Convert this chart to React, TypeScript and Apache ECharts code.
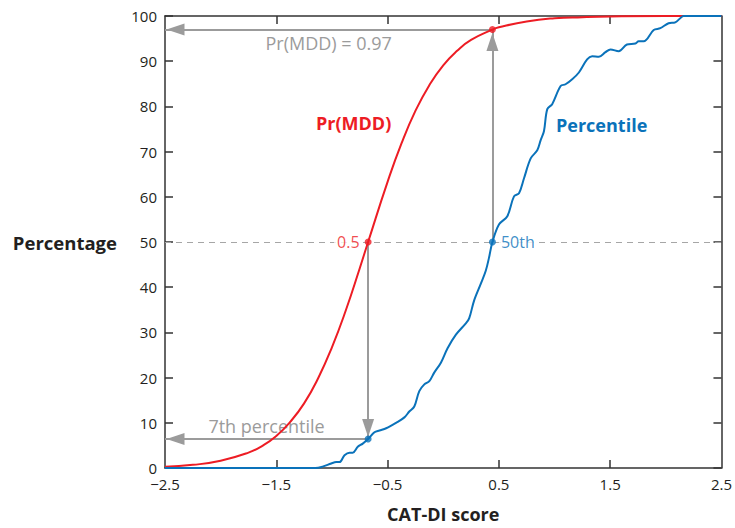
import React, { useEffect, useRef } from 'react';
import * as echarts from 'echarts';

const FONT = '"Open Sans", "Noto Sans", sans-serif';

// Axis values
const X_MIN = -2.5;
const X_MAX = 2.5;
const X_LABEL_VALUES = [-2.5, -1.5, -0.5, 0.5, 1.5, 2.5];
const X_TICK_VALUES = [-1.5, -0.5, 0.5, 1.5];
const Y_MIN = 0;
const Y_MAX = 100;
const Y_STEP = 10;

// Pr(MDD) curve (x = CAT-DI score, y = percentage)
const prMddCurve: [number, number][] = [
  [-2.5, 0.3], [-2.25, 0.7], [-2.0, 1.6], [-1.75, 3.4], [-1.625, 4.9],
  [-1.5, 7.1], [-1.375, 10.2], [-1.25, 14.3], [-1.125, 19.8], [-1.0, 26.7],
  [-0.875, 34.9], [-0.75, 44.2], [-0.675, 50], [-0.5, 63.3], [-0.375, 71.8],
  [-0.25, 79.0], [-0.125, 84.7], [0, 89.1], [0.125, 92.3], [0.25, 94.7],
  [0.442, 97], [0.5, 97.5], [0.75, 98.8], [1.0, 99.5], [1.25, 99.75],
  [1.5, 99.9], [2.0, 100], [2.5, 100],
];

const percentileCurve: [number, number][] = [
  [-2.5, 0], [-1.3, 0], [-1.15, 0], [-1.084, 0.3], [-1.006, 1.0], [-0.961, 1.3],
  [-0.932, 1.3], [-0.887, 2.8], [-0.842, 3.4], [-0.813, 3.4], [-0.768, 4.7],
  [-0.723, 5.4], [-0.675, 6.4], [-0.618, 7.9], [-0.573, 8.3], [-0.513, 8.8],
  [-0.424, 10], [-0.349, 11.2], [-0.305, 12.5], [-0.26, 13.6], [-0.215, 17],
  [-0.17, 18.5], [-0.125, 19.2], [-0.081, 21.1], [-0.021, 23.3], [0.039, 26.5],
  [0.114, 29.5], [0.203, 32], [0.233, 33.1], [0.278, 37.1], [0.338, 40.8],
  [0.383, 43.7], [0.412, 46.6], [0.442, 50], [0.502, 53.9], [0.576, 55.7],
  [0.636, 60.1], [0.681, 60.8], [0.726, 64.1], [0.786, 68.5], [0.845, 70.3],
  [0.875, 72.5], [0.905, 74.5], [0.935, 79.4], [0.979, 80.5], [1.055, 84.5],
  [1.099, 84.9], [1.159, 86], [1.219, 87.5], [1.293, 90.4], [1.338, 91.1],
  [1.398, 91], [1.458, 92], [1.503, 92.6], [1.577, 92.2], [1.651, 93.7],
  [1.727, 93.9], [1.756, 94.4], [1.801, 94.4], [1.891, 96.9], [1.951, 97.3],
  [2.025, 98.4], [2.085, 98.6], [2.13, 99.5], [2.159, 100], [2.5, 100],
];

// Key points
const CUT_SCORE = -0.675;
const MEDIAN_SCORE = 0.442;
const PR_AT_MEDIAN = 97;
const PCT_AT_CUT = 6.4;
const HALF = 50;

const RED = '#ed1c24';
const BLUE = '#0a72ba';
const GRAY = '#9b9b9b';
const INK = '#231f20';
const AXIS = '#333333';

const fmt = (v: number) => String(v).replace('-', '\u2212');

export default function App() {
  const ref = useRef<HTMLDivElement>(null);

  useEffect(() => {
    if (!ref.current) return;
    const chart = echarts.init(ref.current, undefined, { renderer: 'svg' });

    const axisLine = { show: true, onZero: false, lineStyle: { color: AXIS, width: 1.5 } };
    const tick = (vals?: number[]) => ({
      show: true,
      inside: true,
      length: 8,
      ...(vals ? { customValues: vals } : {}),
      lineStyle: { color: AXIS, width: 1.5 },
    });

    const arrowEnd = (offset: number) => ({
      symbol: 'triangle',
      symbolSize: [12, 18],
      symbolOffset: [0, offset],
    });

    chart.setOption({
      animation: false,
      backgroundColor: '#ffffff',
      textStyle: { fontFamily: FONT },
      grid: { left: 165, right: 12, top: 16, bottom: 55, containLabel: false },
      xAxis: [
        {
          type: 'value',
          min: X_MIN,
          max: X_MAX,
          position: 'bottom',
          axisLine,
          axisTick: tick(X_TICK_VALUES),
          axisLabel: {
            customValues: X_LABEL_VALUES,
            formatter: fmt,
            fontSize: 15,
            color: INK,
            margin: 8,
            fontFamily: FONT,
          },
          splitLine: { show: false },
          name: 'CAT-DI score',
          nameLocation: 'middle',
          nameGap: 37,
          nameTextStyle: { fontSize: 18, fontWeight: 'bold', color: INK, fontFamily: FONT },
        },
        {
          type: 'value',
          min: X_MIN,
          max: X_MAX,
          position: 'top',
          axisLine,
          axisTick: tick(X_TICK_VALUES),
          axisLabel: { show: false },
          splitLine: { show: false },
        },
      ],
      yAxis: [
        {
          type: 'value',
          min: Y_MIN,
          max: Y_MAX,
          interval: Y_STEP,
          position: 'left',
          axisLine,
          axisTick: tick(),
          axisLabel: { fontSize: 15, color: INK, margin: 8, fontFamily: FONT },
          splitLine: { show: false },
          name: 'Percentage',
          nameLocation: 'middle',
          nameRotate: 0,
          nameGap: 48,
          nameTextStyle: { fontSize: 18.5, fontWeight: 'bold', color: INK, fontFamily: FONT, align: 'right' },
        },
        {
          type: 'value',
          min: Y_MIN,
          max: Y_MAX,
          interval: Y_STEP,
          position: 'right',
          axisLine,
          axisTick: tick(),
          axisLabel: { show: false },
          splitLine: { show: false },
        },
      ],
      graphic: [
        {
          type: 'text',
          left: 316,
          top: 114,
          silent: true,
          style: { text: 'Pr(MDD)', fill: RED, font: `bold 18px ${FONT}` },
        },
        {
          type: 'text',
          left: 556,
          top: 116,
          silent: true,
          style: { text: 'Percentile', fill: BLUE, font: `bold 18px ${FONT}` },
        },
      ],
      series: [
        {
          name: 'Pr(MDD)',
          type: 'line',
          data: prMddCurve,
          smooth: true,
          showSymbol: false,
          silent: true,
          z: 3,
          lineStyle: { color: RED, width: 2 },
          markLine: {
            silent: true,
            z: 1,
            animation: false,
            label: { show: false },
            lineStyle: { color: GRAY, width: 2, type: 'solid' },
            data: [
              [
                { coord: [MEDIAN_SCORE, PR_AT_MEDIAN], symbol: 'none' },
                {
                  coord: [X_MIN, PR_AT_MEDIAN],
                  ...arrowEnd(10.5),
                  label: {
                    show: true,
                    position: 'insideMiddleBottom',
                    formatter: 'Pr(MDD) = 0.97',
                    color: GRAY,
                    fontSize: 18,
                    fontFamily: FONT,
                    distance: 4,
                  },
                },
              ],
              [
                { coord: [MEDIAN_SCORE, HALF], symbol: 'none' },
                { coord: [MEDIAN_SCORE, PR_AT_MEDIAN], ...arrowEnd(12.5) },
              ],
              [
                { coord: [CUT_SCORE, HALF], symbol: 'none' },
                { coord: [CUT_SCORE, PCT_AT_CUT], ...arrowEnd(11) },
              ],
              [
                { coord: [CUT_SCORE, PCT_AT_CUT], symbol: 'none' },
                {
                  coord: [X_MIN, PCT_AT_CUT],
                  ...arrowEnd(10.5),
                  label: {
                    show: true,
                    position: 'insideMiddleTop',
                    formatter: '7th percentile',
                    color: GRAY,
                    fontSize: 18,
                    fontFamily: FONT,
                    distance: 4,
                  },
                },
              ],
            ],
          },
        },
        {
          name: 'Percentile',
          type: 'line',
          data: percentileCurve,
          smooth: 0.35,
          showSymbol: false,
          silent: true,
          z: 3,
          lineStyle: { color: BLUE, width: 2 },
          markLine: {
            silent: true,
            z: 1,
            animation: false,
            symbol: 'none',
            label: { show: false },
            lineStyle: { color: '#a6a6a6', width: 1, type: [6, 5] },
            data: [{ yAxis: HALF }],
          },
        },
        {
          type: 'scatter',
          silent: true,
          z: 5,
          symbolSize: 7,
          itemStyle: { color: RED },
          data: [
            {
              value: [CUT_SCORE, HALF],
              label: {
                show: true,
                position: 'left',
                distance: 3,
                formatter: '0.5',
                color: RED,
                fontSize: 16,
                fontFamily: FONT,
                backgroundColor: '#ffffff',
                padding: [0, 2, 0, 3],
              },
            },
            { value: [MEDIAN_SCORE, PR_AT_MEDIAN] },
          ],
        },
        {
          type: 'scatter',
          silent: true,
          z: 5,
          symbolSize: 7,
          itemStyle: { color: BLUE },
          data: [
            {
              value: [MEDIAN_SCORE, HALF],
              label: {
                show: true,
                position: 'right',
                distance: 3,
                formatter: '50th',
                color: BLUE,
                fontSize: 16,
                fontFamily: FONT,
                backgroundColor: '#ffffff',
                padding: [0, 3, 0, 2],
              },
            },
            { value: [CUT_SCORE, PCT_AT_CUT] },
          ],
        },
      ],
    });

    return () => chart.dispose();
  }, []);

  return (
    <div
      ref={ref}
      style={{ position: 'fixed', left: 0, top: 0, width: 735, height: 528, background: '#fff' }}
    />
  );
}
